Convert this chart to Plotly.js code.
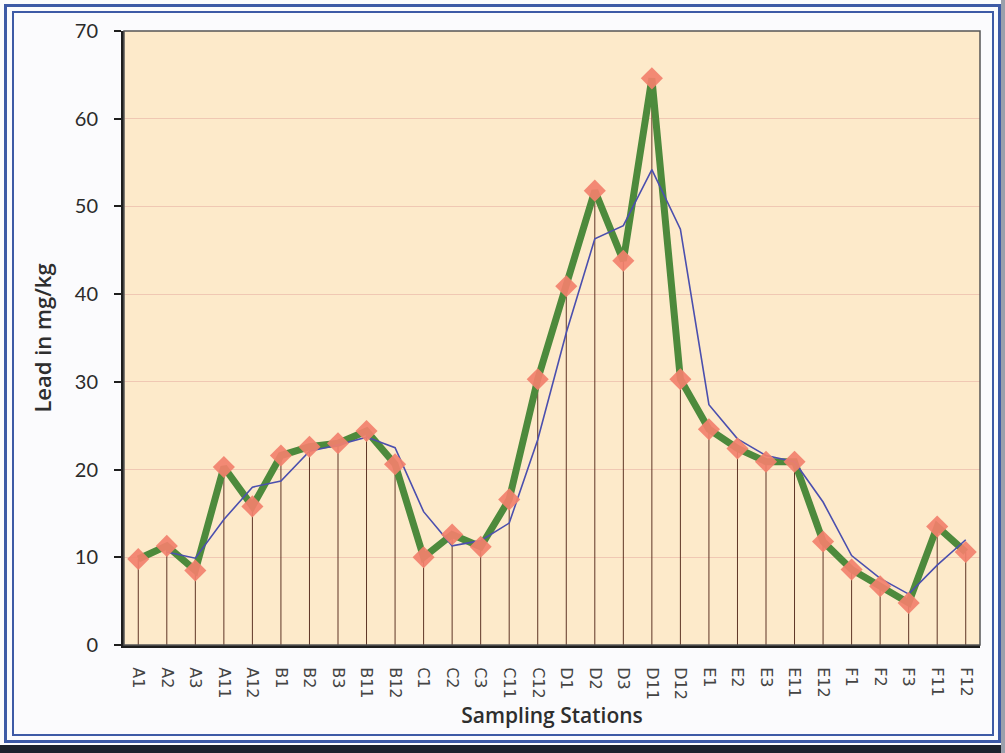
<!DOCTYPE html>
<html>
<head>
<meta charset="utf-8">
<script src="https://cdn.plot.ly/plotly-3.0.1.min.js"></script>
<style>
  html, body { margin: 0; padding: 0; background: #ffffff; }
  #wrap { position: relative; width: 1005px; height: 753px; overflow: hidden; background: #fbfbfd; }
  #chart { position: absolute; left: 0; top: 0; width: 1005px; height: 753px; }
  .frame { position: absolute; pointer-events: none; box-sizing: border-box; }
  #outer { left: 4px; top: 4px; width: 997px; height: 739px; border: 3px solid #3d5aa6; }
  #inner { left: 12px; top: 11px; width: 982px; height: 725px; border: 2px solid #3d5aa6; }
  #strip { position: absolute; left: 0; top: 745px; width: 1005px; height: 8px; background: #1c222c; }
  #rstrip { position: absolute; left: 1001px; top: 0; width: 4px; height: 753px; background: #9aa0ac; }
</style>
</head>
<body>
<div id="wrap">
  <div id="chart"></div>
  <div id="outer" class="frame"></div>
  <div id="inner" class="frame"></div>
  <div id="strip"></div>
  <div id="rstrip"></div>
</div>
<script>
const stations = ["A1","A2","A3","A11","A12","B1","B2","B3","B11","B12",
                  "C1","C2","C3","C11","C12","D1","D2","D3","D11","D12",
                  "E1","E2","E3","E11","E12","F1","F2","F3","F11","F12"];
const lead = [9.8, 11.3, 8.5, 20.3, 15.8, 21.6, 22.6, 23.0, 24.4, 20.6,
              10.0, 12.6, 11.2, 16.6, 30.3, 40.9, 51.8, 43.8, 64.6, 30.3,
              24.6, 22.4, 20.9, 20.9, 11.8, 8.6, 6.7, 4.8, 13.5, 10.6];
const trendStations = ["A2","A3","A11","A12","B1","B2","B3","B11","B12",
                  "C1","C2","C3","C11","C12","D1","D2","D3","D11","D12",
                  "E1","E2","E3","E11","E12","F1","F2","F3","F11","F12"];
const trend = [10.6, 9.9, 14.3, 18.0, 18.7, 22.1, 22.8, 23.7, 22.5,
               15.2, 11.3, 11.9, 13.9, 23.4, 35.6, 46.3, 47.8, 54.2, 47.4,
               27.4, 23.5, 21.6, 20.9, 16.3, 10.2, 7.6, 5.8, 9.1, 12.0];
const yTicks = [0, 10, 20, 30, 40, 50, 60, 70];

// drop lines from each point to the axis
const dropX = [], dropY = [];
stations.forEach((s, i) => { dropX.push(s, s, null); dropY.push(lead[i], 0, null); });

const traces = [
  { x: dropX, y: dropY, type: 'scatter', mode: 'lines',
    line: { color: '#5e3526', width: 1 }, hoverinfo: 'skip', showlegend: false },
  { x: stations, y: lead, type: 'scatter', mode: 'lines',
    line: { color: '#4d8a3c', width: 7 }, showlegend: false },
  { x: trendStations, y: trend, type: 'scatter', mode: 'lines',
    line: { color: '#4b4fae', width: 1.6 }, showlegend: false },
  { x: stations, y: lead, type: 'scatter', mode: 'markers',
    marker: { symbol: 'diamond', size: 17, color: '#f2806c', opacity: 0.92 }, showlegend: false }
];

const layout = {
  width: 1005, height: 753,
  margin: { l: 124, r: 25, t: 31, b: 108 },
  paper_bgcolor: 'rgba(0,0,0,0)',
  plot_bgcolor: '#fdeaca',
  font: { family: 'Lato, "Open Sans", sans-serif', color: '#2b2b2b' },
  xaxis: {
    type: 'category', categoryorder: 'array', categoryarray: stations,
    range: [-0.5, stations.length - 0.5],
    tickangle: 90, tickfont: { size: 16, color: '#444444', family: '"DejaVu Sans", sans-serif' },
    ticklabelstandoff: 16,
    showgrid: false, zeroline: false,
    showline: true, linecolor: '#1e1e1e', linewidth: 3,
    ticks: '', ticklen: 0,
    title: { text: 'Sampling Stations', font: { size: 21, color: '#2e2e2e', family: '"Open Sans", sans-serif', weight: 600 }, standoff: 10 }
  },
  yaxis: {
    range: [0, 70], tickvals: yTicks, ticktext: yTicks.map(String),
    tickfont: { size: 20, color: '#2b2b2b', family: 'Lato, sans-serif' },
    ticklabelstandoff: 12,
    showgrid: true, gridcolor: 'rgba(225,160,150,0.45)', gridwidth: 1,
    zeroline: false,
    showline: true, linecolor: '#1e1e1e', linewidth: 3,
    ticks: 'outside', ticklen: 7, tickwidth: 2, tickcolor: '#1e1e1e',
    title: { text: 'Lead in mg/kg', font: { size: 22, color: '#2e2e2e', family: '"Open Sans", sans-serif', weight: 600 }, standoff: 18 }
  },
  shapes: [
    { type: 'rect', xref: 'paper', yref: 'paper', x0: 0, x1: 1, y0: 0, y1: 1,
      line: { color: '#555555', width: 1.5 }, fillcolor: 'rgba(0,0,0,0)', layer: 'above' }
  ]
};

Plotly.newPlot('chart', traces, layout, { displayModeBar: false, staticPlot: true });
</script>
</body>
</html>
